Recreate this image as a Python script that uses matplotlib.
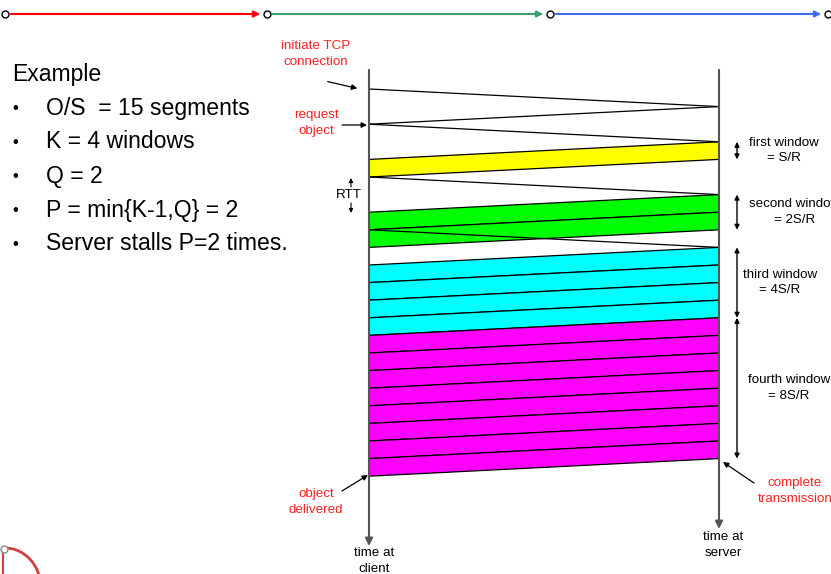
import matplotlib
matplotlib.use("Agg")
import matplotlib.pyplot as plt
from matplotlib.patches import Polygon, Arc

plt.rcParams["font.family"] = ["Liberation Sans", "DejaVu Sans"]

# timeline, in units of S/R (one segment transmission time == one-way delay)
HANDSHAKE = [("client", 0), ("server", 1), ("client", 2)]   # message sent at t, arrives t+1
ACKS = [5, 8]                                              # client acks sent at t
WINDOW_SIZES = [1, 2, 4, 8]
WINDOW_START = [3, 6, 9, 13]                                # server starts sending window
WINDOW_COLORS = ["#FFFF00", "#00FF00", "#00FFFF", "#FF00FF"]
WINDOW_LABELS = ["first window\n= S/R", "second window\n= 2S/R",
                 "third window\n= 4S/R", "fourth window\n= 8S/R"]
BULLETS = ["O/S  = 15 segments", "K = 4 windows", "Q = 2",
           "P = min{K-1,Q} = 2", "Server stalls P=2 times."]
TOP_COLORS = ["#FF0000", "#3C9E6B", "#3F6FF0"]
TOP_NODES = [5, 267, 550, 828]

CLIENT_X, SERVER_X = 369, 719
Y0, UNIT = 89, 17.6
LABEL_X = [784, 795, 780, 789]
RED = "#FF2020"
BIG, SMALL = 16.6, 9.6
LS = 1.4


def ty(t):
    return Y0 + t * UNIT


fig = plt.figure(figsize=(8.31, 5.74), dpi=100)
ax = fig.add_axes([0, 0, 1, 1])
ax.set_xlim(0, 831)
ax.set_ylim(574, 0)
ax.axis("off")

# top progress bar
for i, c in enumerate(TOP_COLORS):
    ax.annotate("", xy=(TOP_NODES[i + 1] - 4, 14), xytext=(TOP_NODES[i] + 3, 14),
                arrowprops=dict(arrowstyle="-|>", color=c, lw=1.5, mutation_scale=9))
ax.plot(TOP_NODES, [14] * len(TOP_NODES), "o", ms=5, mfc="white", mec="black", mew=1)

# left text
ax.text(12, 74, "Example", fontsize=BIG, va="center")
for i, b in enumerate(BULLETS):
    y = 108 + i * 34
    ax.text(12, y, "•", fontsize=12, va="center")
    ax.text(46, y, b, fontsize=BIG, va="center")

# time axes
ax.annotate("", xy=(CLIENT_X, 546), xytext=(CLIENT_X, 70),
            arrowprops=dict(arrowstyle="-|>", color="#555555", lw=1.5, mutation_scale=11,
                            shrinkA=0, shrinkB=0))
ax.annotate("", xy=(SERVER_X, 529), xytext=(SERVER_X, 70),
            arrowprops=dict(arrowstyle="-|>", color="#555555", lw=1.5, mutation_scale=11,
                            shrinkA=0, shrinkB=0))
ax.text(374, 561, "time at\nclient", fontsize=SMALL, ha="center", va="center", linespacing=LS)
ax.text(723, 545, "time at\nserver", fontsize=SMALL, ha="center", va="center", linespacing=LS)

# handshake / request and acks
for side, t in HANDSHAKE:
    xs = [CLIENT_X, SERVER_X] if side == "client" else [SERVER_X, CLIENT_X]
    ax.plot(xs, [ty(t), ty(t + 1)], color="black", lw=0.9)
for t in ACKS:
    ax.plot([CLIENT_X, SERVER_X], [ty(t), ty(t + 1)], color="black", lw=0.9)

# data segments
for size, start, color, label, lx in zip(WINDOW_SIZES, WINDOW_START, WINDOW_COLORS,
                                         WINDOW_LABELS, LABEL_X):
    for k in range(size):
        t = start + k
        poly = Polygon([(SERVER_X, ty(t)), (SERVER_X, ty(t + 1)),
                        (CLIENT_X, ty(t + 2)), (CLIENT_X, ty(t + 1))],
                       closed=True, facecolor=color, edgecolor="black", lw=0.9)
        ax.add_patch(poly)
    ax.annotate("", xy=(737, ty(start)), xytext=(737, ty(start + size)),
                arrowprops=dict(arrowstyle="<|-|>", color="black", lw=1, mutation_scale=7,
                                shrinkA=0, shrinkB=0))
    ax.text(lx, ty(start + size / 2), label, fontsize=SMALL, ha="center", va="center",
            linespacing=LS)

# red annotations
ax.text(316, 54, "initiate TCP\nconnection", color=RED, fontsize=SMALL, ha="center",
        va="center", linespacing=LS)
ax.annotate("", xy=(360, 89), xytext=(325, 81),
            arrowprops=dict(arrowstyle="-|>", color="black", lw=0.9, mutation_scale=8))
ax.text(316, 123, "request\nobject", color=RED, fontsize=SMALL, ha="center",
        va="center", linespacing=LS)
ax.annotate("", xy=(367, 125), xytext=(342, 125),
            arrowprops=dict(arrowstyle="-|>", color="black", lw=0.9, mutation_scale=8,
                            shrinkA=0, shrinkB=0))
ax.text(316, 502, "object\ndelivered", color=RED, fontsize=SMALL, ha="center",
        va="center", linespacing=LS)
ax.annotate("", xy=(368, 475), xytext=(342, 491),
            arrowprops=dict(arrowstyle="-|>", color="black", lw=0.9, mutation_scale=8,
                            shrinkA=0, shrinkB=0))
ax.text(795, 491, "complete\ntransmission", color=RED, fontsize=SMALL, ha="center",
        va="center", linespacing=LS)
ax.annotate("", xy=(723, 462), xytext=(754, 483),
            arrowprops=dict(arrowstyle="-|>", color="black", lw=0.9, mutation_scale=8,
                            shrinkA=0, shrinkB=0))

# RTT marker
ax.text(349, 195, "RTT", fontsize=SMALL, ha="center", va="center")
ax.annotate("", xy=(351, 178), xytext=(351, 187),
            arrowprops=dict(arrowstyle="-|>", color="black", lw=0.8, mutation_scale=6,
                            shrinkA=0, shrinkB=0))
ax.annotate("", xy=(351, 213), xytext=(351, 203),
            arrowprops=dict(arrowstyle="-|>", color="black", lw=0.8, mutation_scale=6,
                            shrinkA=0, shrinkB=0))

# corner logo fragment
ax.add_patch(Arc((5, 588), 72, 80, theta1=270, theta2=360, color="#D04040", lw=2))
ax.plot([3, 3], [552, 574], color="#D04040", lw=1.5)
ax.plot([4], [549], "o", ms=5, mfc="white", mec="#888888", mew=1)

fig.savefig("out.png", dpi=100)
